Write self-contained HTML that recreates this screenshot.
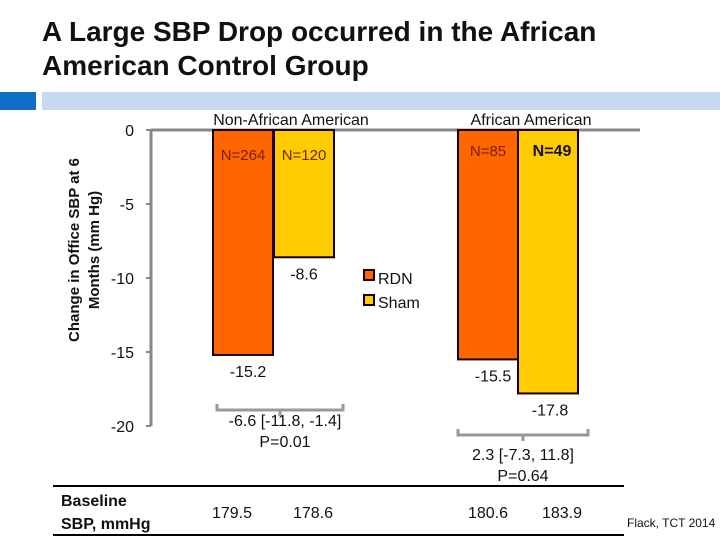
<!DOCTYPE html>
<html><head><meta charset="utf-8"><style>
body{margin:0;width:720px;height:540px;background:#fff;overflow:hidden;font-family:"Liberation Sans",sans-serif}
</style></head><body>
<svg width="720" height="540" xmlns="http://www.w3.org/2000/svg" font-family="Liberation Sans, sans-serif">
<text x="42" y="41" font-size="28" font-weight="bold" fill="#111">A Large SBP Drop occurred in the African</text>
<text x="42" y="75" font-size="28" font-weight="bold" fill="#111">American Control Group</text>
<rect x="0" y="92" width="36" height="18" fill="#0f6fc6"/>
<rect x="42" y="92" width="678" height="18" fill="#c6d9f1"/>
<text transform="translate(79,250) rotate(-90)" text-anchor="middle" font-size="15" font-weight="bold" fill="#111"><tspan x="0" dy="0">Change in Office SBP at 6</tspan><tspan x="0" dy="20">Months (mm Hg)</tspan></text>
<g id="axis"></g>
<g id="bars"></g>
<text x="291" y="125" text-anchor="middle" font-size="16" fill="#111">Non-African American</text>
<text x="531" y="125" text-anchor="middle" font-size="16" fill="#111">African American</text>
<text x="243" y="160" text-anchor="middle" font-size="15" fill="#7a2000">N=264</text>
<text x="304" y="160" text-anchor="middle" font-size="15" fill="#7a2000">N=120</text>
<text x="488" y="156" text-anchor="middle" font-size="15" fill="#7a2000">N=85</text>
<text x="552" y="156" text-anchor="middle" font-size="16" font-weight="bold" fill="#111">N=49</text>
<rect x="364" y="270" width="10" height="10" fill="#ff6600" stroke="#1a0000" stroke-width="2"/>
<text x="378" y="284" font-size="16" fill="#111">RDN</text>
<rect x="364" y="295" width="10" height="10" fill="#ffcc00" stroke="#1a0000" stroke-width="2"/>
<text x="378" y="308" font-size="16" fill="#111">Sham</text>
<path d="M217,404 v6 h126 v-6 M280,410 v6" fill="none" stroke="#999" stroke-width="3"/>
<text x="285" y="426" text-anchor="middle" font-size="16" fill="#111">-6.6 [-11.8, -1.4]</text>
<text x="285" y="447" text-anchor="middle" font-size="16" fill="#111">P=0.01</text>
<path d="M458,429 v6 h130 v-6 M523,435 v6" fill="none" stroke="#999" stroke-width="3"/>
<text x="523" y="460" text-anchor="middle" font-size="16" fill="#111">2.3 [-7.3, 11.8]</text>
<text x="523" y="481" text-anchor="middle" font-size="16" fill="#111">P=0.64</text>
<line x1="53" y1="486" x2="624" y2="486" stroke="#000" stroke-width="2"/>
<line x1="53" y1="535" x2="624" y2="535" stroke="#000" stroke-width="2"/>
<text x="61" y="506" font-size="16" font-weight="bold" fill="#111">Baseline</text>
<text x="61" y="529" font-size="16" font-weight="bold" fill="#111">SBP, mmHg</text>
<g id="base"></g>
<text x="627" y="527" font-size="12" fill="#111">Flack, TCT 2014</text>
</svg>
<script>
const categories=["Non-African American RDN","Non-African American Sham","African American RDN","African American Sham"];
const values=[-15.2,-8.6,-15.5,-17.8];
const valueLabels=["-15.2","-8.6","-15.5","-17.8"];
const baselines=["179.5","178.6","180.6","183.9"];
const ticks=[0,-5,-10,-15,-20];
const NS="http://www.w3.org/2000/svg";
function y(v){return 130+(-v)*14.8;}
const barX=[213,274,458,518], barW=60;
const cols=["#ff6600","#ffcc00","#ff6600","#ffcc00"];
function mk(t,a,p){const e=document.createElementNS(NS,t);for(const k in a)e.setAttribute(k,a[k]);p.appendChild(e);return e;}
const ax=document.getElementById('axis');
const zl=mk('line',{x1:151,y1:y(0),x2:640,y2:y(0),stroke:'#888','stroke-width':3},ax);


const al=mk('line',{x1:151,y1:y(0),x2:151,y2:y(-20),stroke:'#888','stroke-width':3},ax);


ticks.forEach(t=>{
 const tk=mk('line',{x1:146,y1:y(t),x2:151,y2:y(t),stroke:'#888','stroke-width':2},ax);
 
 
 const tx=mk('text',{x:134,y:y(t)+6,'text-anchor':'end','font-size':16,fill:'#111'},ax);
 tx.textContent=String(t);
 
 
});
const bg=document.getElementById('bars');
values.forEach((v,i)=>{
 const r=mk('rect',{x:barX[i],y:y(0),width:barW,height:y(v)-y(0),fill:cols[i],stroke:'#1a0000','stroke-width':2},bg);
 
 
 const t=mk('text',{x:barX[i]+barW/2+(i===0?5:(i===2?5:(i===3?2:0))),y:y(v)+22,'text-anchor':'middle','font-size':16,fill:'#111'},bg);
 t.textContent=valueLabels[i];
 
 
});
const bsg=document.getElementById('base');
const bx=[232,313,488,562];
baselines.forEach((b,i)=>{
 const t=mk('text',{x:bx[i],y:518,'text-anchor':'middle','font-size':16,fill:'#111'},bsg);
 t.textContent=b;
 
 
});
</script>
</body></html>
